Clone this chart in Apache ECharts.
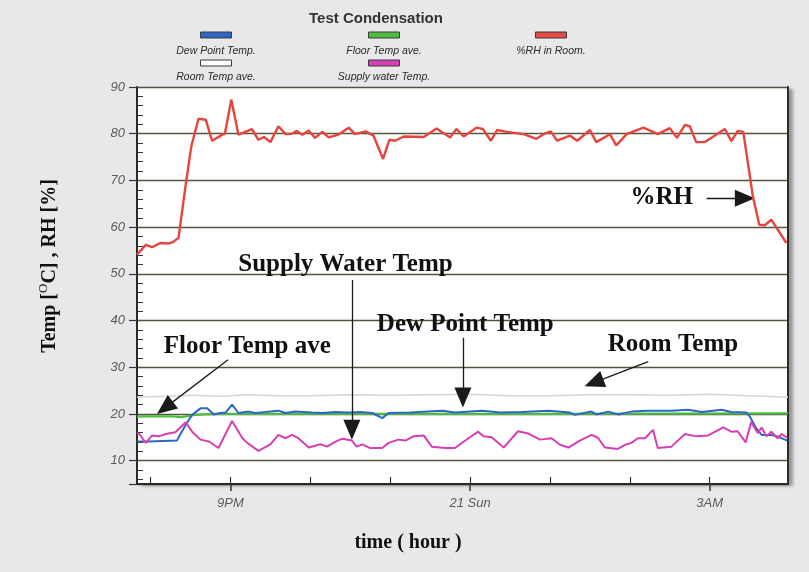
<!DOCTYPE html>
<html><head><meta charset="utf-8">
<script src="https://cdn.jsdelivr.net/npm/echarts@6/dist/echarts.min.js"></script>
<style>html,body{margin:0;padding:0;background:#e8e8ea;}#c{width:809px;height:572px;}</style>
</head><body><div id="c"></div>
<script>
// ---- x axis (hours relative to midnight, Sun 21) ----
const xMin = -4.17, xMax = 3.98;
const xMajorTicks = [-3, 0, 3];
const xMajorLabels = ['9PM', '21 Sun', '3AM'];
const xMinorTicks = [-4, -3, -2, -1, 0, 1, 2, 3];
// ---- y axis ----
const yMin = 5, yMax = 90;
const yMinorTicks = [6,8,12,14,16,18,22,24,26,28,32,34,36,38,42,44,46,48,52,54,56,58,62,64,66,68,72,74,76,78,82,84,86,88];

// ---- %RH in Room ----
const rhHours = [-4.17,-4.06,-3.98,-3.88,-3.77,-3.72,-3.65,-3.56,-3.49,-3.40,-3.31,-3.23,-3.10,-3.07,-2.99,-2.90,-2.73,-2.65,-2.58,-2.50,-2.40,-2.31,-2.23,-2.17,-2.10,-2.02,-1.94,-1.85,-1.77,-1.65,-1.52,-1.44,-1.31,-1.21,-1.09,-1.01,-0.94,-0.83,-0.58,-0.42,-0.25,-0.17,-0.08,0.08,0.16,0.26,0.34,0.46,0.67,0.83,0.92,1.01,1.09,1.25,1.34,1.50,1.58,1.75,1.83,1.96,2.17,2.35,2.50,2.59,2.69,2.75,2.83,2.94,3.19,3.27,3.35,3.42,3.54,3.62,3.69,3.77,3.96];
const rhValues = [54.1,56.2,55.7,56.6,56.5,56.8,57.7,69.1,77.3,83.2,83.0,78.5,79.8,80.0,87.3,79.8,81.0,78.7,79.3,78.2,81.6,79.9,80.0,80.6,79.8,80.7,79.1,80.4,79.2,79.8,81.3,79.9,80.5,79.6,74.6,78.7,78.5,79.4,79.3,81.1,79.2,81.0,79.4,81.3,81.0,78.5,80.8,80.4,79.9,78.9,79.9,80.5,78.5,79.6,78.5,80.8,78.2,79.9,77.5,79.9,81.3,79.9,81.2,79.1,81.9,81.6,78.2,78.2,81.0,78.4,80.6,80.4,66.6,60.5,60.4,61.6,56.6];

// ---- Dew Point Temp. ----
const dewHours = [-4.17,-4.02,-3.67,-3.56,-3.48,-3.375,-3.29,-3.21,-3.125,-3.06,-2.98,-2.90,-2.77,-2.69,-2.56,-2.40,-2.31,-2.19,-1.98,-1.85,-1.69,-1.52,-1.375,-1.225,-1.10,-1.02,-0.75,-0.35,-0.19,0.15,0.375,0.65,0.98,1.25,1.31,1.52,1.58,1.73,1.85,2.02,2.23,2.52,2.73,2.90,3.15,3.27,3.46,3.50,3.58,3.65,3.77,3.85,3.97];
const dewValues = [14.1,14.1,14.3,17.7,19.8,21.2,21.2,19.9,20.2,20.3,22.0,20.2,20.5,20.2,20.4,20.7,20.2,20.5,20.3,20.2,20.4,20.3,20.4,20.2,19.1,20.2,20.3,20.7,20.3,20.7,20.3,20.4,20.7,20.3,19.8,20.5,19.9,20.5,19.9,20.5,20.7,20.7,20.9,20.4,20.9,20.4,20.3,19.5,17.0,15.5,15.5,15.2,14.3];

// ---- Floor Temp ave. ----
const floorHours = [-4.17,-3.75,-3.62,-3.45,-3.2,-1.0,1.0,3.98];
const floorValues = [19.5,19.5,19.3,19.8,20.0,20.0,20.0,20.1];

// ---- Room Temp ave. ----
const roomHours = [-4.17,-3.8,-3.5,-3.1,-2.8,-2.4,-2.0,-1.5,-1.0,-0.5,0.0,0.5,1.0,1.5,2.0,2.5,3.0,3.5,3.98];
const roomValues = [23.6,23.8,24.0,23.8,24.1,23.9,23.9,24.1,24.0,24.1,24.2,23.9,23.9,24.1,24.1,24.0,24.2,23.9,23.6];

// ---- Supply water Temp. ----
const supplyHours = [-4.17,-4.14,-4.06,-3.98,-3.90,-3.81,-3.69,-3.56,-3.48,-3.375,-3.27,-3.15,-2.98,-2.85,-2.79,-2.65,-2.50,-2.40,-2.31,-2.23,-2.15,-2.02,-1.875,-1.79,-1.69,-1.60,-1.48,-1.42,-1.35,-1.25,-1.10,-1.02,-0.90,-0.81,-0.71,-0.58,-0.48,-0.31,-0.19,-0.02,0.10,0.17,0.27,0.42,0.60,0.73,0.875,1.02,1.125,1.23,1.375,1.52,1.60,1.69,1.85,1.94,2.02,2.10,2.19,2.29,2.35,2.52,2.69,2.83,2.98,3.17,3.27,3.35,3.45,3.52,3.60,3.65,3.71,3.77,3.85,3.90,3.97];
const supplyValues = [15.9,15.7,13.8,15.4,15.2,15.7,16.1,18.2,16.2,14.5,14.1,12.7,18.5,14.8,13.8,12.1,13.5,15.5,14.8,15.5,14.8,12.8,13.5,13.0,14.0,14.7,14.3,13.0,13.5,12.7,12.7,13.8,14.5,14.3,15.2,15.4,13.0,12.7,12.7,14.8,16.2,15.2,15.0,12.8,16.3,15.8,14.5,14.8,13.4,12.8,14.3,15.5,14.9,12.8,12.5,13.4,13.8,14.8,14.8,16.6,12.7,13.0,15.7,15.2,15.4,17.1,16.2,16.3,13.9,18.3,15.9,17.1,15.2,16.2,14.8,15.7,14.9];

// ---- legend ----
const legendNames = ['Dew Point Temp.', 'Floor Temp ave.', '%RH in Room.', 'Room Temp ave.', 'Supply water Temp.'];
const legendColors = ['#2f66c6', '#4cbc3e', '#e54a44', '#ffffff', '#d63fb4'];

// ---- annotations (data coordinates) ----
const annotTexts = ['Supply Water Temp', 'Dew Point Temp', 'Floor Temp ave', 'Room Temp', '%RH'];
const annotTextX = [-1.56, -0.06, -2.79, 2.54, 2.40];
const annotTextY = [52.0, 39.1, 34.4, 34.8, 66.3];
const arrowFromX = [-1.48, -0.09, -3.03, 2.23, 2.96];
const arrowFromY = [48.7, 36.3, 31.6, 31.2, 66.2];
const arrowToX = [-1.48, -0.09, -3.82, 1.55, 3.44];
const arrowToY = [16.6, 23.5, 21.3, 26.7, 66.2];

const pairs = (xs, ys) => xs.map((x, i) => [x, ys[i]]);

const chart = echarts.init(document.getElementById('c'), null, {renderer: 'canvas'});

const legendGraphics = [];
const colX = [216, 384, 551];
const iconY = [35, 63];
const textY = [51.5, 77.5];
legendNames.forEach((n, i) => {
  const col = i % 3, row = Math.floor(i / 3);
  legendGraphics.push({
    type: 'rect', shape: {x: colX[col] - 15.5, y: iconY[row] - 3, width: 31, height: 6},
    style: {fill: legendColors[i], stroke: '#3a3a3a', lineWidth: 1}, silent: true
  });
  legendGraphics.push({
    type: 'text', x: colX[col], y: textY[row],
    style: {text: n, fontSize: 10.5, fontStyle: 'italic', fontFamily: 'Liberation Sans', fill: '#2a2a2a', align: 'center', verticalAlign: 'middle'},
    silent: true
  });
});

const borderColor = '#2b2b22';

chart.setOption({
  animation: false,
  backgroundColor: '#e8e8ea',
  title: {
    text: 'Test Condensation', left: 304, top: 6,
    textStyle: {fontSize: 15, fontWeight: 'bold', fontFamily: 'Liberation Sans', color: '#333'}
  },
  grid: {
    left: 137, right: 21, top: 87, bottom: 88, show: true,
    backgroundColor: '#ffffff', borderWidth: 0,
    shadowColor: 'rgba(0,0,0,0.35)', shadowBlur: 3, shadowOffsetX: 5, shadowOffsetY: 2
  },
  graphic: legendGraphics.concat([
    {
      type: 'text', x: 50, y: 266, rotation: Math.PI / 2,
      style: {
        text: 'Temp [{sup|O}C] , RH [%]', align: 'center', verticalAlign: 'middle',
        fontFamily: 'Liberation Serif', fontWeight: 'bold', fontSize: 20, fill: '#111',
        rich: {sup: {fontFamily: 'Liberation Serif', fontSize: 13, verticalAlign: 'top', fill: '#111', lineHeight: 26}}
      }, silent: true
    },
    {
      type: 'text', x: 408, y: 543,
      style: {text: 'time ( hour )', align: 'center', verticalAlign: 'middle',
        fontFamily: 'Liberation Serif', fontWeight: 'bold', fontSize: 20, fill: '#111'},
      silent: true
    }
  ]),
  xAxis: [
    {
      type: 'value', min: xMin, max: xMax, position: 'bottom',
      axisLine: {show: true, onZero: false, lineStyle: {color: borderColor, width: 2}},
      axisTick: {show: true, length: 7, customValues: xMajorTicks, lineStyle: {color: '#333', width: 1.5}},
      axisLabel: {show: true, customValues: xMajorTicks, margin: 13,
        formatter: v => { const k = xMajorTicks.indexOf(v); return k >= 0 ? xMajorLabels[k] : ''; },
        fontSize: 13, fontStyle: 'italic', fontFamily: 'Liberation Sans', color: '#5a5a5a'},
      splitLine: {show: false}
    },
    {
      type: 'value', min: xMin, max: xMax, position: 'bottom',
      axisLine: {show: false, onZero: false},
      axisTick: {show: true, inside: true, length: 7, customValues: xMinorTicks, lineStyle: {color: '#333', width: 1.2}},
      axisLabel: {show: false},
      splitLine: {show: false}
    }
  ],
  yAxis: [
    {
      type: 'value', min: yMin, max: yMax, splitNumber: 9, position: 'left',
      axisLine: {show: true, onZero: false, lineStyle: {color: borderColor, width: 2}},
      axisTick: {show: true, length: 8, lineStyle: {color: '#333', width: 1.2}},
      axisLabel: {margin: 12, formatter: v => (v < 10 ? '' : String(v)),
        fontSize: 13, fontStyle: 'italic', fontFamily: 'Liberation Sans', color: '#5a5a5a'},
      splitLine: {show: true, lineStyle: {color: '#55553f', width: 1.3}}
    },
    {
      type: 'value', min: yMin, max: yMax, position: 'left',
      axisLine: {show: false, onZero: false},
      axisTick: {show: true, inside: true, length: 6, customValues: yMinorTicks, lineStyle: {color: '#333', width: 1}},
      axisLabel: {show: false},
      splitLine: {show: false}
    },
    {
      type: 'value', min: yMin, max: yMax, position: 'right',
      axisLine: {show: true, onZero: false, lineStyle: {color: borderColor, width: 2}},
      axisTick: {show: false},
      axisLabel: {show: false},
      splitLine: {show: false}
    }
  ],
  series: [
    {name: 'Room Temp ave.', type: 'line', data: pairs(roomHours, roomValues), showSymbol: false,
      lineStyle: {color: '#d6d6da', width: 1.5}, itemStyle: {color: '#d6d6da'}, z: 2},
    {name: 'Floor Temp ave.', type: 'line', data: pairs(floorHours, floorValues), showSymbol: false,
      lineStyle: {color: '#4cbc3e', width: 2.2}, itemStyle: {color: '#4cbc3e'}, z: 3},
    {name: 'Dew Point Temp.', type: 'line', data: pairs(dewHours, dewValues), showSymbol: false,
      lineStyle: {color: '#2f66c6', width: 2}, itemStyle: {color: '#2f66c6'}, z: 4},
    {name: 'Supply water Temp.', type: 'line', data: pairs(supplyHours, supplyValues), showSymbol: false,
      lineStyle: {color: '#d63fb4', width: 2}, itemStyle: {color: '#d63fb4'}, z: 5},
    {name: '%RH in Room.', type: 'line', data: pairs(rhHours, rhValues), showSymbol: false,
      lineStyle: {color: '#e8443e', width: 2.4}, itemStyle: {color: '#e8443e'}, z: 6,
      markLine: {
        silent: true, animation: false, symbol: ['none', 'triangle'], symbolSize: [17, 20],
        lineStyle: {color: '#1a1a1a', width: 1.3, type: 'solid'},
        label: {show: false}, emphasis: {disabled: true},
        data: arrowFromX.map((x, i) => [{coord: [x, arrowFromY[i]]}, {coord: [arrowToX[i], arrowToY[i]]}])
      },
      markPoint: {
        silent: true, animation: false,
        data: annotTexts.map((t, i) => ({
          coord: [annotTextX[i], annotTextY[i]], symbol: 'circle', symbolSize: 1,
          itemStyle: {color: 'rgba(0,0,0,0)'},
          label: {show: true, position: 'inside', formatter: t, fontSize: 25,
            fontFamily: 'Liberation Serif', fontWeight: 'bold', color: '#111'}
        }))
      }
    }
  ]
});
</script>
</body></html>
